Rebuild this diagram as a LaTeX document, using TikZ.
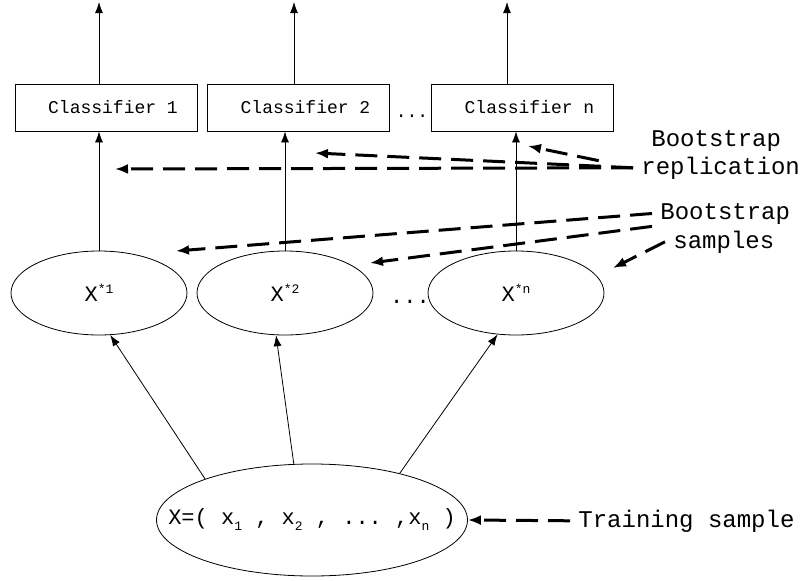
\documentclass[tikz,border=0pt]{standalone}
\usepackage{fontspec}
\setmonofont{Liberation Mono}
\usetikzlibrary{shapes.geometric,arrows.meta}
\newcommand\sbx[1]{\raisebox{-6pt}{\fontsize{13}{13}\selectfont#1}}
\newcommand\spx[1]{\raisebox{8pt}{\fontsize{13}{13}\selectfont#1}}
\begin{document}
\begin{tikzpicture}[x=1pt,y=-1pt,
    >={Latex[length=11pt,width=8pt]},
    line width=0.8pt,
    clsbox/.style={draw,rectangle,minimum width=182pt,minimum height=47pt,inner sep=0pt,
        font=\ttfamily\fontsize{18}{20}\selectfont,execute at begin node=\hspace*{14pt}},
    samp/.style={draw,ellipse,minimum width=176pt,minimum height=84pt,inner sep=0pt,
        font=\ttfamily\fontsize{22}{24}\selectfont},
    trainset/.style={draw,ellipse,minimum width=311pt,minimum height=112pt,inner sep=0pt},
    lbl/.style={font=\ttfamily\fontsize{24}{26}\selectfont,inner xsep=8pt,inner ysep=2pt,anchor=base west},
    bolddash/.style={line width=3pt,dash pattern=on 22pt off 10pt,-{Latex[length=13pt,width=10pt]}}]
    \useasboundingbox (0,0) rectangle (807,581);

    % classifiers and their outputs
    \foreach \i/\x/\ox in {1/106/99, 2/298.5/294, n/522.5/507} {
        \node[clsbox] (c\i) at (\x,107.5) {Classifier \i};
        \coordinate (o\i) at (\ox,2);
        \draw[->] (o\i |- c\i.north) -- (o\i);
    }
    \node[font=\ttfamily\fontsize{18}{20}\selectfont,anchor=base] (d1) at (412,117) {...};

    % bootstrap samples
    \foreach \i/\x in {1/99, 2/285, n/516} {
        \node[samp] (e\i) at (\x,293) {X\spx{*\i}};
        \draw[->] (e\i.north) -- (e\i.north |- c\i.south);
    }
    \node[font=\ttfamily\fontsize{22}{24}\selectfont,anchor=base] (d2) at (410,303) {...};

    % training sample
    \node[trainset] (t) at (312,520) {};
    \node[font=\ttfamily\fontsize{22}{24}\selectfont] (tx) at (t) {X=( x\sbx{1} , x\sbx{2} , ... ,x\sbx{n} )};
    \draw[->] (t.159) -- (e1.-75);
    \draw[->] (t.108) -- (e2.-102);
    \draw[->] (t.28) -- (en.-114);

    % labels
    \node[lbl] (bs1) at (643,146) {Bootstrap};
    \node[lbl] (rep) at (633,174) {replication};
    \node[lbl] (bs2) at (652,219) {Bootstrap};
    \node[lbl] (sam) at (665,248) {samples};
    \node[lbl] (ts) at (570,527) {Training sample};

    \coordinate (r1) at (115,169);
    \coordinate (r2) at (315,153);
    \coordinate (r3) at (528,146);
    \coordinate (s1) at (176,251);
    \coordinate (s2) at (370,263);
    \coordinate (s3) at (613,268);

    \draw[bolddash] (rep.west) -- (r1);
    \draw[bolddash] (rep.west) -- (r2);
    \draw[bolddash,shorten <=35pt] (rep.west) -- (r3);
    \draw[bolddash] (bs2.west) -- (s1);
    \draw[bolddash] (bs2.south west) -- (s2);
    \draw[bolddash] (sam.west) -- (s3);
    \draw[bolddash] (ts.west) -- (t.east);

\end{tikzpicture}
\end{document}
